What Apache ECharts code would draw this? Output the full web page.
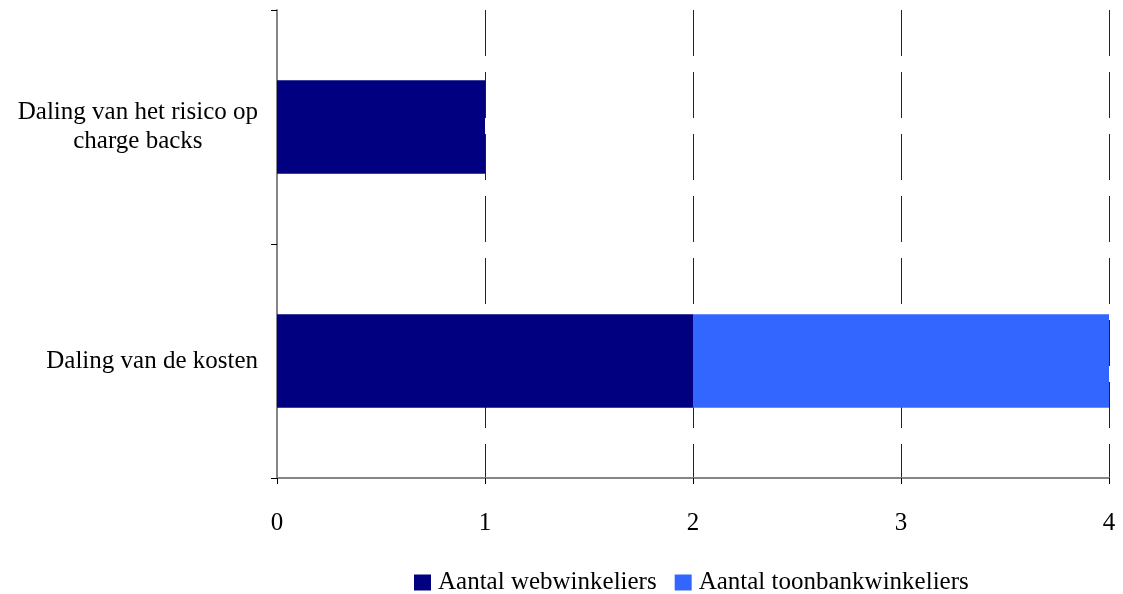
<!DOCTYPE html>
<html>
<head>
<meta charset="utf-8">
<script src="https://cdn.jsdelivr.net/npm/echarts@6/dist/echarts.min.js"></script>
<style>
  html, body { margin: 0; padding: 0; background: #fff; }
  #chart { width: 1123px; height: 594px; }
</style>
</head>
<body>
<div id="chart"></div>
<script>
// Categories, bottom to top as drawn on the category axis
const categories = ['Daling van de kosten', 'Daling van het risico op\ncharge backs'];
const seriesNames = ['Aantal webwinkeliers', 'Aantal toonbankwinkeliers'];
const webwinkeliers = [2, 1];
const toonbankwinkeliers = [2, 0];
const xTicks = [0, 1, 2, 3, 4];

const FONT = '"Liberation Serif", "Times New Roman", serif';
const FS = 25;
const AXIS_GREY = '#868686';

const chart = echarts.init(document.getElementById('chart'));
chart.setOption({
  animation: false,
  backgroundColor: '#ffffff',
  textStyle: { fontFamily: FONT },
  grid: { left: 277, right: 14, top: 10, bottom: 116, containLabel: false },
  xAxis: {
    type: 'value',
    min: xTicks[0],
    max: xTicks[xTicks.length - 1],
    interval: 1,
    axisLine: { show: true, lineStyle: { color: AXIS_GREY, width: 2 } },
    axisTick: { show: true, length: 6, lineStyle: { color: '#000', width: 1 } },
    axisLabel: { margin: 33, color: '#000', fontSize: FS, fontFamily: FONT },
    splitLine: {
      show: true,
      lineStyle: { color: '#222', width: 1, type: [46, 16] }
    }
  },
  yAxis: {
    type: 'category',
    data: categories,
    axisLine: { show: true, lineStyle: { color: AXIS_GREY, width: 2 } },
    axisTick: { show: true, length: 6, lineStyle: { color: '#000', width: 1 } },
    axisLabel: {
      margin: 19,
      color: '#000',
      fontSize: FS,
      fontFamily: FONT,
      lineHeight: 29,
      formatter: v => v.split('\n').map(s => '{c|' + s + '}').join('\n'),
      rich: { c: { align: 'center', fontSize: FS, fontFamily: FONT, color: '#000', lineHeight: 29 } }
    },
    splitLine: { show: false }
  },
  legend: {
    top: 565,
    left: 409,
    itemWidth: 17,
    itemHeight: 16,
    itemGap: 18,
    icon: 'rect',
    textStyle: { fontSize: FS, fontFamily: FONT, color: '#000', padding: [0, 0, 0, 2] },
    data: seriesNames
  },
  series: [
    {
      name: seriesNames[0],
      type: 'bar',
      stack: 'total',
      barWidth: '40%',
      itemStyle: { color: '#000080' },
      data: webwinkeliers
    },
    {
      name: seriesNames[1],
      type: 'bar',
      stack: 'total',
      barWidth: '40%',
      itemStyle: { color: '#3366FF' },
      data: toonbankwinkeliers
    }
  ]
});
</script>
</body>
</html>
